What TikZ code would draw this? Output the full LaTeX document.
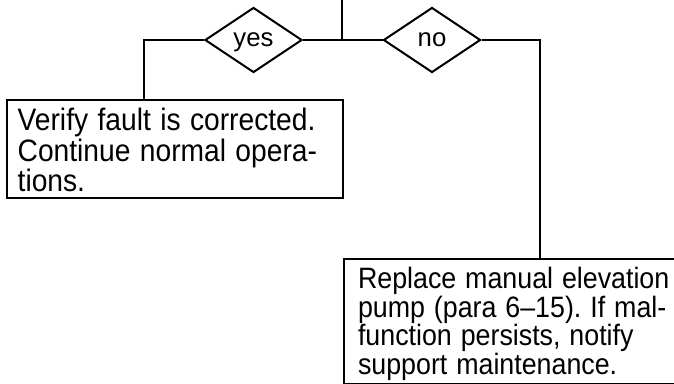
\documentclass[tikz,border=0pt]{standalone}
\usepackage{fontspec}
\usepackage{graphicx}
\setmainfont{Liberation Sans}
\newcommand{\tline}[1]{\scalebox{1}[1.1]{#1}}
\usetikzlibrary{shapes.geometric}
\begin{document}
\frenchspacing
\begin{tikzpicture}[x=0.75pt,y=-0.75pt,
  line width=1.5pt,
  decision/.style={draw, diamond, inner sep=0pt, minimum width=72.75pt, minimum height=48.75pt,
    text depth=0pt, font=\fontsize{19.3pt}{21pt}\selectfont},
  boxone/.style={draw, rectangle, anchor=north west, align=left, inner xsep=8pt, inner ysep=0pt,
    text width=236pt, minimum width=252pt, minimum height=73.5pt,
    font=\fontsize{21.15pt}{21.4pt}\selectfont},
  boxtwo/.style={draw, rectangle, anchor=north west, align=left, inner xsep=10.5pt, inner ysep=0pt,
    text width=300pt, minimum height=94.1pt,
    font=\fontsize{20.1pt}{20pt}\selectfont}
]
\useasboundingbox (0,0) rectangle (674,383);
\coordinate (top) at (342,0);
\coordinate (j) at (342,40);
\node[decision] (yes) at (253.5,40) {yes};
\node[decision] (no) at (432,40) {no};
\node[boxone] (b1) at (6,99) {\rule{0pt}{22.5pt}\tline{Verify fault is corrected.}\\ \tline{Continue normal opera-}\\ \tline{tions.}\rule[-4.5pt]{0pt}{4.5pt}};
\node[boxtwo] (b2) at (343,258) {\rule{0pt}{20.5pt}\tline{Replace manual elevation}\\ \tline{pump (para 6–15). If mal-}\\ \tline{function persists, notify}\\ \tline{support maintenance.}\rule[-6pt]{0pt}{6pt}};
\draw (top) -- (j);
\draw (j) -- (yes.east);
\draw (j) -- (no.west);
\draw (yes.west) -| ([xshift=103.5pt]b1.north west);
\draw (no.east) -| ([xshift=147.75pt]b2.north west);
\end{tikzpicture}
\end{document}
